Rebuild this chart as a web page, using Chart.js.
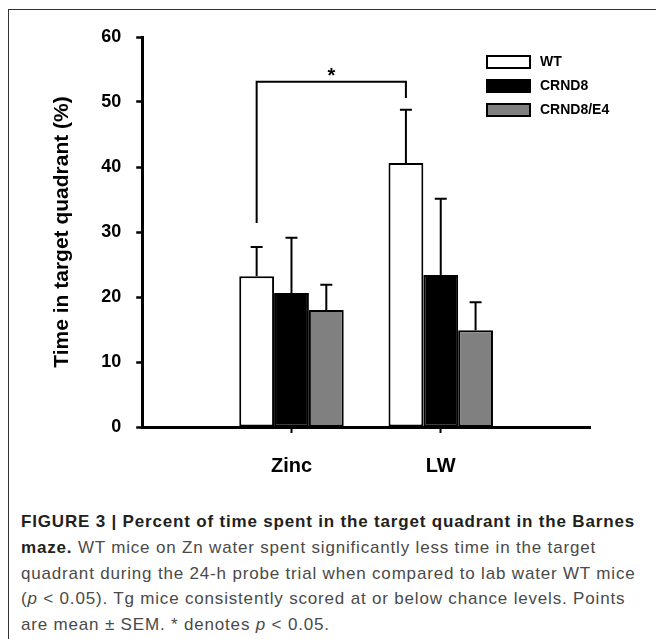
<!DOCTYPE html>
<html>
<head>
<meta charset="utf-8">
<script src="https://cdn.jsdelivr.net/npm/chart.js@4/dist/chart.umd.min.js"></script>
<style>
  html, body { margin: 0; padding: 0; background: #fff; }
  body { position: relative; width: 656px; height: 639px; overflow: hidden; }
  #frame { position: absolute; left: 8px; top: 9px; width: 660px; height: 640px;
           border-top: 1px solid #333; border-left: 1px solid #333; }
  #wrap { position: absolute; left: 0; top: 0; width: 656px; height: 500px; }
  #caption { position: absolute; left: 21px; top: 509px; width: 640px;
             font-family: "Liberation Sans Narrow", "Arial Narrow", "Liberation Sans", sans-serif;
             font-size: 17px; line-height: 25.8px; letter-spacing: 0.82px;
             color: #4a4a4a; white-space: nowrap; }
  #caption b { color: #231f20; }
</style>
</head>
<body>
<div id="frame"></div>
<div id="wrap"><canvas id="myChart" width="656" height="500"></canvas></div>
<div id="caption">
  <b>FIGURE 3 | Percent of time spent in the target quadrant in the Barnes</b><br>
  <b>maze.</b> WT mice on Zn water spent significantly less time in the target<br>
  quadrant during the 24-h probe trial when compared to lab water WT mice<br>
  (<i>p</i> &lt; 0.05). Tg mice consistently scored at or below chance levels. Points<br>
  are mean ± SEM. * denotes <i>p</i> &lt; 0.05.
</div>
<script>
// Datos (grupos vacíos en los extremos para el espaciado del eje)
const categories = ['', 'Zinc', 'LW', ''];
const seriesNames = ['WT', 'CRND8', 'CRND8/E4'];
const wtValues = [null, 23.2, 40.6, null];
const crnd8Values = [null, 20.6, 23.4, null];
const e4Values = [null, 18.0, 14.9, null];
// extremo superior de la barra de error (media + SEM)
const wtErrTop = [null, 27.7, 48.8, null];
const crnd8ErrTop = [null, 29.1, 35.1, null];
const e4ErrTop = [null, 21.9, 19.2, null];
const yTicks = [0, 10, 20, 30, 40, 50, 60];
// corchete de significancia entre Zinc WT y LW WT
const bracketLevels = [31.4, 53.1, 50.6];
const starLevel = 54.8;

const fills = ['#ffffff', '#000000', '#808080'];

// Plugin para barras de error, corchete y leyenda
const extras = {
    id: 'extras',
    afterDatasetsDraw(chart) {
        const ctx = chart.ctx;
        const y = chart.scales.y;
        const errs = [wtErrTop, crnd8ErrTop, e4ErrTop];
        ctx.save();
        ctx.strokeStyle = '#000';
        ctx.lineWidth = 2;
        errs.forEach((arr, di) => {
            const meta = chart.getDatasetMeta(di);
            arr.forEach((v, i) => {
                if (v == null) return;
                const bar = meta.data[i];
                const yt = y.getPixelForValue(v);
                ctx.beginPath();
                ctx.moveTo(bar.x, bar.y);
                ctx.lineTo(bar.x, yt);
                ctx.moveTo(bar.x - 6, yt);
                ctx.lineTo(bar.x + 6, yt);
                ctx.stroke();
            });
        });

        // corchete
        const wt = chart.getDatasetMeta(0).data;
        const x1 = wt[1].x, x2 = wt[2].x;
        ctx.beginPath();
        ctx.moveTo(x1, y.getPixelForValue(bracketLevels[0]));
        ctx.lineTo(x1, y.getPixelForValue(bracketLevels[1]));
        ctx.lineTo(x2, y.getPixelForValue(bracketLevels[1]));
        ctx.lineTo(x2, y.getPixelForValue(bracketLevels[2]));
        ctx.stroke();
        ctx.fillStyle = '#000';
        ctx.font = 'bold 20px "Liberation Sans", Arial, sans-serif';
        ctx.textAlign = 'center';
        ctx.textBaseline = 'alphabetic';
        ctx.fillText('*', (x1 + x2) / 2, y.getPixelForValue(starLevel) + 11.5);

        // leyenda
        const lx = 487, ly = [56, 80, 104];
        ctx.font = 'bold 14px "Liberation Sans", Arial, sans-serif';
        ctx.textAlign = 'left';
        ctx.textBaseline = 'middle';
        seriesNames.forEach((name, i) => {
            ctx.fillStyle = fills[i];
            ctx.fillRect(lx, ly[i], 43, 12);
            ctx.lineWidth = 2;
            ctx.strokeStyle = '#000';
            ctx.strokeRect(lx, ly[i], 43, 12);
            ctx.fillStyle = '#000';
            ctx.fillText(name, lx + 53, ly[i] + 6.5);
        });
        ctx.restore();
    }
};

const ctx = document.getElementById('myChart').getContext('2d');
const valueSets = [wtValues, crnd8Values, e4Values];
const datasets = valueSets.map((vals, i) => ({
    label: seriesNames[i],
    data: vals,
    backgroundColor: fills[i],
    borderColor: '#000',
    borderWidth: 2,
    borderSkipped: false,
    categoryPercentage: 0.7,
    barPercentage: 1.0
}));

new Chart(ctx, {
    type: 'bar',
    data: { labels: categories, datasets: datasets },
    options: {
        responsive: false,
        animation: false,
        events: [],
        layout: { padding: { left: 50, top: 37, right: 66, bottom: 1 } },
        plugins: { legend: { display: false }, tooltip: { enabled: false } },
        scales: {
            x: {
                offset: false,
                afterBuildTicks: (scale) => {
                    scale.ticks = scale.ticks.filter(t => categories[t.value] !== '');
                },
                grid: { offset: false, drawOnChartArea: false, tickLength: 6, tickWidth: 2, tickColor: '#000' },
                border: { color: '#000', width: 3 },
                ticks: {
                    color: '#000', padding: 21, maxRotation: 0, autoSkip: false,
                    font: { family: '"Liberation Sans", Arial, sans-serif', size: 20, weight: 'bold' }
                }
            },
            y: {
                min: 0,
                max: 60,
                afterBuildTicks: (scale) => {
                    scale.ticks = yTicks.map(v => ({ value: v }));
                },
                grid: { drawOnChartArea: false, tickLength: 6, tickWidth: 2.5, tickColor: '#000' },
                border: { color: '#000', width: 3 },
                ticks: {
                    color: '#000', padding: 15,
                    font: { family: '"Liberation Sans", Arial, sans-serif', size: 18, weight: 'bold' }
                },
                title: {
                    display: true,
                    text: 'Time in target quadrant (%)',
                    color: '#000',
                    padding: { top: 0, bottom: 11 },
                    font: { family: '"Liberation Sans", Arial, sans-serif', size: 21, weight: 'bold' }
                }
            }
        }
    },
    plugins: [extras]
});
</script>
</body>
</html>
